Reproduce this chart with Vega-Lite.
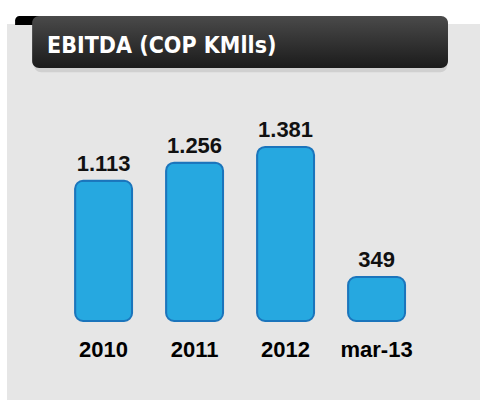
{
  "$schema": "https://vega.github.io/schema/vega-lite/v6.json",
  "width": 473,
  "height": 376,
  "autosize": {"type": "none"},
  "padding": {"left": 7, "top": 24, "right": 0, "bottom": 0},
  "background": "#ffffff",
  "config": {
    "view": {"fill": "#e6e6e6", "stroke": null}
  },
  "datasets": {
    "ebitda": [
      {"periodo": "2010", "valor": 1113, "etiqueta": "1.113"},
      {"periodo": "2011", "valor": 1256, "etiqueta": "1.256"},
      {"periodo": "2012", "valor": 1381, "etiqueta": "1.381"},
      {"periodo": "mar-13", "valor": 349, "etiqueta": "349"}
    ],
    "titulo": [{"texto": "EBITDA (COP KMlls)"}]
  },
  "layer": [
    {
      "data": {"name": "ebitda"},
      "mark": {"type": "bar", "color": "#26a8e0", "stroke": "#1b75bc", "strokeWidth": 2, "cornerRadius": 8},
      "encoding": {
        "x": {
          "field": "periodo",
          "type": "nominal",
          "sort": null,
          "scale": {"paddingInner": 0.374, "paddingOuter": 0.786, "align": 0.476},
          "axis": {"title": null, "domain": false, "ticks": false, "labelAngle": 0, "offset": -79, "labelBaseline": "alphabetic", "labelPadding": 35, "labelFont": "Liberation Sans", "labelFontWeight": "bold", "labelFontSize": 22, "labelColor": "#000000"}
        },
        "y": {
          "field": "valor",
          "type": "quantitative",
          "scale": {"domain": [0, 2357], "range": [297, 0], "nice": false, "zero": true},
          "axis": null
        }
      }
    },
    {
      "data": {"name": "ebitda"},
      "mark": {"type": "text", "baseline": "alphabetic", "dy": -10, "font": "Liberation Sans", "fontWeight": "bold", "fontSize": 22, "color": "#111111"},
      "encoding": {
        "x": {"field": "periodo", "type": "nominal", "sort": null},
        "y": {"field": "valor", "type": "quantitative"},
        "text": {"field": "etiqueta"}
      }
    },
    {
      "data": {"name": "titulo"},
      "mark": {"type": "rect", "color": "#000000", "cornerRadiusTopLeft": 9, "cornerRadiusTopRight": 9, "clip": false},
      "encoding": {
        "x": {"datum": "2010", "bandPosition": -1.053},
        "x2": {"datum": "2010", "bandPosition": -0.45},
        "y": {"datum": 2420},
        "y2": {"datum": 2349}
      }
    },
    {
      "data": {"name": "titulo"},
      "mark": {"type": "rect", "color": "#bdbdbd", "opacity": 0.55, "cornerRadius": 7, "clip": false},
      "encoding": {
        "x": {"datum": "2010", "bandPosition": -0.72},
        "x2": {"datum": "mar-13", "bandPosition": 1.74},
        "y": {"datum": 2400},
        "y2": {"datum": 1975}
      }
    },
    {
      "data": {"name": "titulo"},
      "mark": {
        "type": "rect",
        "cornerRadius": 7,
        "clip": false,
        "color": {"gradient": "linear", "x1": 0, "y1": 0, "x2": 0, "y2": 1, "stops": [{"offset": 0, "color": "#4a4a4a"}, {"offset": 1, "color": "#1b1b1b"}]}
      },
      "encoding": {
        "x": {"datum": "2010", "bandPosition": -0.754},
        "x2": {"datum": "mar-13", "bandPosition": 1.754},
        "y": {"datum": 2420},
        "y2": {"datum": 2008}
      }
    },
    {
      "data": {"name": "titulo"},
      "mark": {"type": "text", "align": "left", "baseline": "alphabetic", "font": "DejaVu Sans Condensed", "fontWeight": "bold", "fontSize": 23, "color": "#ffffff", "clip": false},
      "encoding": {
        "x": {"datum": "2010", "bandPosition": -0.491},
        "y": {"datum": 2130},
        "text": {"field": "texto"}
      }
    }
  ]
}
